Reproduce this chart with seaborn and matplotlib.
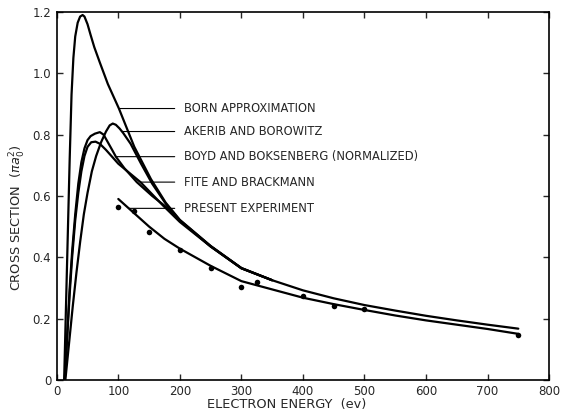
import numpy as np
import pandas as pd
import seaborn as sns
import matplotlib
matplotlib.use("Agg")
import matplotlib.pyplot as plt

# curves (energy in eV, cross section in pi*a0^2)
born_x = [12, 15, 18, 21, 24, 27, 30, 34, 38, 42, 45, 50, 55, 61, 70, 83, 101, 126, 153, 177,
          200, 250, 300, 350, 400, 450, 500, 550, 600, 650, 700, 750]
born_y = [0, 0.24, 0.48, 0.72, 0.93, 1.05, 1.12, 1.165, 1.185, 1.19, 1.185, 1.16, 1.125, 1.085,
          1.035, 0.965, 0.885, 0.76, 0.655, 0.578, 0.522, 0.437, 0.365, 0.325, 0.292, 0.266,
          0.244, 0.226, 0.209, 0.194, 0.180, 0.167]

akerib_x = [14, 20, 26, 32, 38, 44, 50, 57, 64, 72, 80, 86, 91, 96, 102, 108, 120, 137, 155,
            177, 200, 250, 300, 350]
akerib_y = [0, 0.12, 0.24, 0.35, 0.45, 0.54, 0.61, 0.68, 0.73, 0.775, 0.81, 0.83, 0.836, 0.832,
            0.82, 0.805, 0.77, 0.705, 0.64, 0.575, 0.52, 0.436, 0.364, 0.325]

boyd_x = [13, 17, 21, 25, 30, 35, 40, 45, 50, 55, 62, 70, 76, 83, 90, 96, 110, 130, 155, 177,
          200, 250, 300, 350]
boyd_y = [0, 0.15, 0.30, 0.42, 0.54, 0.64, 0.71, 0.755, 0.782, 0.795, 0.803, 0.808, 0.80, 0.775,
          0.75, 0.728, 0.69, 0.645, 0.60, 0.565, 0.52, 0.435, 0.364, 0.325]

fite_x = [13, 17, 21, 25, 30, 35, 40, 45, 50, 56, 63, 70, 80, 100, 136, 172, 200, 250, 300, 350]
fite_y = [0, 0.14, 0.28, 0.40, 0.52, 0.61, 0.68, 0.73, 0.76, 0.775, 0.777, 0.77, 0.75, 0.705,
          0.645, 0.57, 0.515, 0.435, 0.364, 0.325]

present_x = [100, 125, 150, 175, 200, 250, 300, 350, 400, 450, 500, 550, 600, 650, 700, 750]
present_y = [0.59, 0.545, 0.50, 0.46, 0.428, 0.372, 0.322, 0.295, 0.268, 0.247, 0.228, 0.21,
             0.194, 0.18, 0.166, 0.15]

points_x = [100, 125, 150, 200, 250, 300, 325, 400, 450, 500, 750]
points_y = [0.565, 0.552, 0.482, 0.425, 0.366, 0.303, 0.32, 0.272, 0.24, 0.232, 0.146]

labels = ["BORN APPROXIMATION", "AKERIB AND BOROWITZ", "BOYD AND BOKSENBERG (NORMALIZED)",
          "FITE AND BRACKMANN", "PRESENT EXPERIMENT"]
pointer_at = [101, 106, 96, 136, 117]   # energy where each label's leader touches its curve

x_ticks = [0, 100, 200, 300, 400, 500, 600, 700, 800]
y_ticks = [0, 0.2, 0.4, 0.6, 0.8, 1.0, 1.2]
y_tick_labels = ["0", "0.2", "0.4", "0.6", "0.8", "1.0", "1.2"]

sns.set_style("ticks")
plt.rcParams["font.family"] = ["DejaVu Sans"]

fig = plt.figure(figsize=(5.62, 4.12), dpi=100)
ax = fig.add_axes([0.101, 0.078, 0.876, 0.893])

curves = [(born_x, born_y), (akerib_x, akerib_y), (boyd_x, boyd_y), (fite_x, fite_y),
          (present_x, present_y)]
for cx, cy in curves:
    sns.lineplot(x=cx, y=cy, ax=ax, color="black", lw=1.6, sort=False, estimator=None)

sns.scatterplot(x=points_x, y=points_y, ax=ax, color="black", s=16, edgecolor="black",
                linewidth=0, zorder=5)

for (cx, cy), lab, px in zip(curves, labels, pointer_at):
    py = float(np.interp(px, cx, cy))
    ax.annotate(lab, xy=(px, py), xytext=(206, py), va="center", ha="left", fontsize=8.3,
                arrowprops=dict(arrowstyle="-", lw=0.8, color="black", shrinkA=4, shrinkB=0))

ax.set_xlim(0, 800)
ax.set_ylim(0, 1.2)
ax.set_xticks(x_ticks)
ax.set_yticks(y_ticks)
ax.set_yticklabels(y_tick_labels)
ax.tick_params(direction="in", top=True, right=True, length=4, width=1, labelsize=8.5, pad=4)
for s in ax.spines.values():
    s.set_linewidth(1.2)
    s.set_color("black")

ax.set_xlabel("ELECTRON ENERGY  (ev)", fontsize=9.3)
ax.set_ylabel(r"CROSS SECTION  ($\pi a_0^2$)", fontsize=9.3)
ax.xaxis.set_label_coords(0.467, -0.048)
ax.yaxis.set_label_coords(-0.058, 0.44)

fig.savefig("out.png", dpi=100)
